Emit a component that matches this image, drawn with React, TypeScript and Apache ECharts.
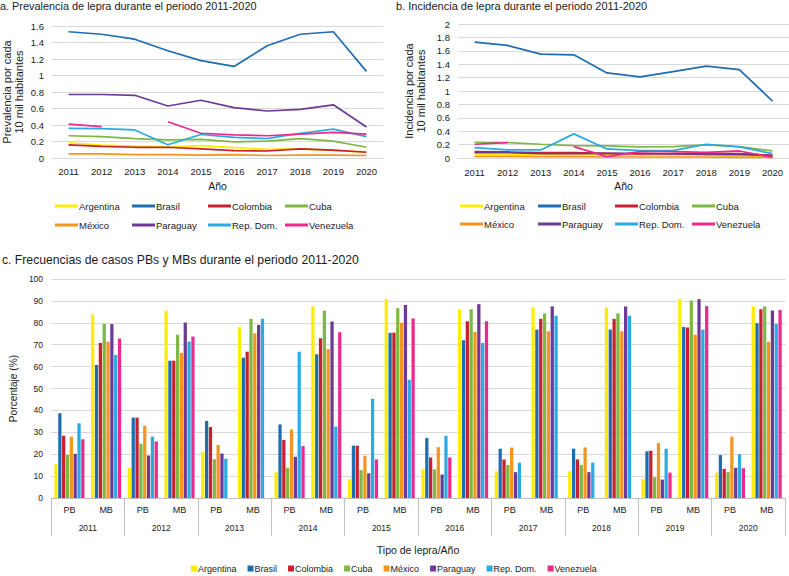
import React, { useEffect, useRef } from "react";
import * as echarts from "echarts";

const years = ["2011", "2012", "2013", "2014", "2015", "2016", "2017", "2018", "2019", "2020"];
const countries = ["Argentina", "Brasil", "Colombia", "Cuba", "México", "Paraguay", "Rep. Dom.", "Venezuela"];
const countryColors = ["#FFED00", "#1F6CB0", "#C8202F", "#7DB843", "#F7941D", "#6C3A96", "#29ABE2", "#EC2A8B"];

// a. Prevalencia por cada 10 mil habitantes
const prevArgentina = [0.185, 0.155, 0.145, 0.135, 0.15, 0.125, 0.105, 0.11, 0.09, 0.075];
const prevBrasil = [1.53, 1.5, 1.44, 1.3, 1.18, 1.11, 1.36, 1.5, 1.53, 1.05];
const prevColombia = [0.16, 0.14, 0.13, 0.13, 0.11, 0.09, 0.085, 0.11, 0.095, 0.07];
const prevCuba = [0.27, 0.26, 0.235, 0.22, 0.225, 0.195, 0.205, 0.235, 0.205, 0.13];
const prevMexico = [0.05, 0.05, 0.04, 0.04, 0.035, 0.04, 0.03, 0.035, 0.035, 0.03];
const prevParaguay = [0.77, 0.77, 0.76, 0.63, 0.7, 0.61, 0.57, 0.59, 0.645, 0.375];
const prevRepDom = [0.36, 0.355, 0.34, 0.16, 0.285, 0.25, 0.235, 0.3, 0.35, 0.26];
const prevVenezuela = [0.41, 0.38, null, 0.44, 0.3, 0.28, 0.27, 0.29, 0.31, 0.29];

// b. Incidencia por cada 10 mil habitantes
const incArgentina = [0.06, 0.05, 0.05, 0.045, 0.05, 0.04, 0.035, 0.04, 0.03, 0.02];
const incBrasil = [1.73, 1.68, 1.55, 1.54, 1.27, 1.21, 1.29, 1.37, 1.32, 0.85];
const incColombia = [0.095, 0.09, 0.08, 0.08, 0.07, 0.06, 0.065, 0.07, 0.065, 0.04];
const incCuba = [0.235, 0.23, 0.205, 0.185, 0.18, 0.165, 0.17, 0.195, 0.17, 0.105];
const incMexico = [0.025, 0.025, 0.02, 0.02, 0.015, 0.015, 0.015, 0.015, 0.01, 0.01];
const incParaguay = [0.08, 0.08, 0.065, 0.065, 0.07, 0.07, 0.06, 0.055, 0.05, 0.035];
const incRepDom = [0.155, 0.12, 0.12, 0.36, 0.135, 0.11, 0.11, 0.205, 0.165, 0.065];
const incVenezuela = [0.205, 0.23, null, 0.17, 0.02, 0.095, 0.095, 0.085, 0.105, 0.01];

// c. Porcentaje PB / MB por año
const leprosyTypes = ["PB", "MB"];
const pctArgentina = [15.4, 83.8, 13.8, 85.6, 21, 78.1, 11.8, 87.6, 8.6, 90.8, 13.1, 86.1, 12.2, 87, 12.2, 87, 8.6, 90.8, 11.6, 87.5];
const pctBrasil = [38.7, 60.7, 36.7, 62.7, 35.2, 64.1, 33.6, 65.6, 23.9, 75.4, 27.4, 72, 22.5, 76.9, 22.5, 76.9, 21.3, 78.1, 19.6, 79.8];
const pctColombia = [28.4, 70.8, 36.7, 62.7, 32.4, 66.8, 26.5, 72.9, 23.9, 75.5, 18.5, 80.7, 17.6, 81.8, 17.6, 81.8, 21.6, 77.8, 13.3, 86.2];
const pctCuba = [19.7, 79.5, 24.8, 74.6, 17.7, 81.8, 13.8, 85.5, 12.7, 86.7, 13.1, 86.2, 15.1, 84.3, 15.1, 84.3, 9.5, 90.2, 11.8, 87.5];
const pctMexico = [28, 71.4, 33, 66.2, 24.2, 75.2, 31.3, 68, 19.3, 80, 23.2, 75.8, 23.1, 76.1, 23.1, 76.1, 25.1, 74.5, 28, 71.4];
const pctParaguay = [20.2, 79.4, 19.4, 80.1, 20.3, 79, 18.8, 80.6, 11.3, 88.1, 10.7, 88.5, 11.8, 87.5, 11.8, 87.5, 8.4, 90.8, 13.8, 85.6];
const pctRepDom = [34.1, 65.3, 28, 71.4, 17.9, 81.8, 66.8, 32.6, 45.3, 54, 28.4, 70.8, 16.1, 83.2, 16.1, 83.2, 22.5, 76.9, 20, 79.5];
const pctVenezuela = [26.8, 72.8, 25.8, 73.7, null, null, 23.7, 75.7, 17.6, 82, 18.5, 80.7, null, null, null, null, 11.6, 87.6, 13.6, 85.9];

const prevData = [prevArgentina, prevBrasil, prevColombia, prevCuba, prevMexico, prevParaguay, prevRepDom, prevVenezuela];
const incData = [incArgentina, incBrasil, incColombia, incCuba, incMexico, incParaguay, incRepDom, incVenezuela];
const pctData = [pctArgentina, pctBrasil, pctColombia, pctCuba, pctMexico, pctParaguay, pctRepDom, pctVenezuela];

const FONT = "'Liberation Sans', Arial, Helvetica, sans-serif";
const TXT = "#1a1a1a";
const GRID = "#d9d9d9";

export default function App() {
  const ref = useRef<HTMLDivElement>(null);
  useEffect(() => {
    if (!ref.current) return;
    const chart = echarts.init(ref.current, null, { renderer: "svg" });

    const typeCats: string[] = [];
    years.forEach(() => leprosyTypes.forEach((t) => typeCats.push(t)));

    const lineLegend = (name: string, left: number, top: number) => ({
      data: [{ name }],
      left,
      top,
      orient: "horizontal",
      icon: "rect",
      itemWidth: 23,
      itemHeight: 3,
      padding: 0,
      selectedMode: false,
      textStyle: { fontFamily: FONT, fontSize: 9.5, color: TXT, padding: [0, 0, 0, -4] },
    });

    const legends: any[] = [];
    const colsA = [55, 132, 208, 285];
    const rowsA = [201, 220];
    const colsB = [460, 538, 615, 692];
    const rowsB = [201, 219];
    countries.forEach((c, i) => {
      const col = i % 4;
      const row = Math.floor(i / 4);
      legends.push(lineLegend(c, colsA[col], rowsA[row]));
      legends.push(lineLegend(c, colsB[col], rowsB[row]));
    });
    legends.push({
      data: countries,
      left: 191,
      top: 564,
      orient: "horizontal",
      icon: "rect",
      itemWidth: 6,
      itemHeight: 6,
      itemGap: 11,
      padding: 0,
      selectedMode: false,
      textStyle: { fontFamily: FONT, fontSize: 9, color: TXT, padding: [0, 0, 0, -4] },
    });

    const valueAxisCommon = {
      type: "value",
      axisLine: { show: false },
      axisTick: { show: false },
      splitLine: { lineStyle: { color: GRID, width: 1 } },
      axisLabel: { fontFamily: FONT, fontSize: 9.5, color: TXT, margin: 8 },
      nameLocation: "middle",
      nameRotate: 90,
      nameTextStyle: { fontFamily: FONT, fontSize: 11, color: TXT, lineHeight: 12 },
    };

    const series: any[] = [];
    countries.forEach((c, i) => {
      series.push({
        name: c,
        type: "line",
        xAxisIndex: 0,
        yAxisIndex: 0,
        data: prevData[i],
        showSymbol: false,
        symbol: "none",
        lineStyle: { width: 1.7, color: countryColors[i] },
        itemStyle: { color: countryColors[i] },
      });
    });
    countries.forEach((c, i) => {
      series.push({
        name: c,
        type: "line",
        xAxisIndex: 1,
        yAxisIndex: 1,
        data: incData[i],
        showSymbol: false,
        symbol: "none",
        lineStyle: { width: 1.7, color: countryColors[i] },
        itemStyle: { color: countryColors[i] },
      });
    });
    countries.forEach((c, i) => {
      series.push({
        name: c,
        type: "bar",
        xAxisIndex: 2,
        yAxisIndex: 2,
        data: pctData[i],
        barGap: "18%",
        barCategoryGap: "18%",
        itemStyle: { color: countryColors[i] },
      });
    });

    const option: any = {
      animation: false,
      backgroundColor: "#ffffff",
      textStyle: { fontFamily: FONT },
      title: [
        {
          text: "a. Prevalencia de lepra durante el periodo 2011-2020",
          left: 0,
          top: 0,
          padding: 0,
          textStyle: { fontFamily: FONT, fontSize: 10.9, fontWeight: "normal", color: TXT },
        },
        {
          text: "b. Incidencia de lepra durante el periodo 2011-2020",
          left: 396,
          top: 0,
          padding: 0,
          textStyle: { fontFamily: FONT, fontSize: 11, fontWeight: "normal", color: TXT },
        },
        {
          text: "c. Frecuencias de casos PBs y MBs durante el periodo 2011-2020",
          left: 2,
          top: 254,
          padding: 0,
          textStyle: { fontFamily: FONT, fontSize: 12.2, fontWeight: "normal", color: TXT },
        },
      ],
      legend: legends,
      grid: [
        { left: 51, top: 26, width: 332, height: 132 },
        { left: 458, top: 24, width: 331, height: 134 },
        { left: 40, top: 279, width: 745, height: 219 },
      ],
      xAxis: [
        {
          type: "category",
          gridIndex: 0,
          data: years,
          boundaryGap: true,
          axisLine: { lineStyle: { color: GRID } },
          axisTick: { show: false },
          axisLabel: { fontFamily: FONT, fontSize: 9.5, color: TXT, margin: 8, interval: 0 },
          name: "Año",
          nameLocation: "middle",
          nameGap: 22,
          nameTextStyle: { fontFamily: FONT, fontSize: 10.5, color: TXT },
        },
        {
          type: "category",
          gridIndex: 1,
          data: years,
          boundaryGap: true,
          axisLine: { lineStyle: { color: GRID } },
          axisTick: { show: false },
          axisLabel: { fontFamily: FONT, fontSize: 9.5, color: TXT, margin: 9, interval: 0 },
          name: "Año",
          nameLocation: "middle",
          nameGap: 22,
          nameTextStyle: { fontFamily: FONT, fontSize: 10.5, color: TXT },
        },
        {
          type: "category",
          gridIndex: 2,
          data: typeCats,
          boundaryGap: true,
          axisLine: { lineStyle: { color: "#bfbfbf" } },
          axisTick: { show: false },
          axisLabel: { fontFamily: FONT, fontSize: 9, color: TXT, margin: 7, interval: 0 },
        },
        {
          type: "category",
          gridIndex: 2,
          position: "bottom",
          data: years,
          boundaryGap: true,
          axisLine: { show: false },
          axisTick: { show: true, length: 38, interval: 0, lineStyle: { color: "#bfbfbf" } },
          axisLabel: { fontFamily: FONT, fontSize: 8.5, color: TXT, margin: 25, interval: 0 },
          name: "Tipo de lepra/Año",
          nameLocation: "middle",
          nameGap: 46,
          nameTextStyle: { fontFamily: FONT, fontSize: 10.5, color: TXT },
        },
      ],
      yAxis: [
        {
          ...valueAxisCommon,
          gridIndex: 0,
          min: 0,
          max: 1.6,
          interval: 0.2,
          name: "Prevalencia por cada\n10 mil habitantes",
          nameGap: 27,
        },
        {
          ...valueAxisCommon,
          gridIndex: 1,
          min: 0,
          max: 2,
          interval: 0.2,
          name: "Incidencia por cada\n10 mil habitantes",
          nameGap: 31,
        },
        {
          ...valueAxisCommon,
          gridIndex: 2,
          min: 0,
          max: 100,
          interval: 10,
          axisLabel: { fontFamily: FONT, fontSize: 8.5, color: TXT, margin: 8 },
          name: "Porcentaje (%)",
          nameGap: 27,
          nameTextStyle: { fontFamily: FONT, fontSize: 10.2, color: TXT },
        },
      ],
      series,
    };

    chart.setOption(option);
    return () => chart.dispose();
  }, []);

  return (
    <div
      ref={ref}
      style={{ position: "absolute", left: 0, top: 0, width: 789, height: 576, background: "#fff" }}
    />
  );
}
